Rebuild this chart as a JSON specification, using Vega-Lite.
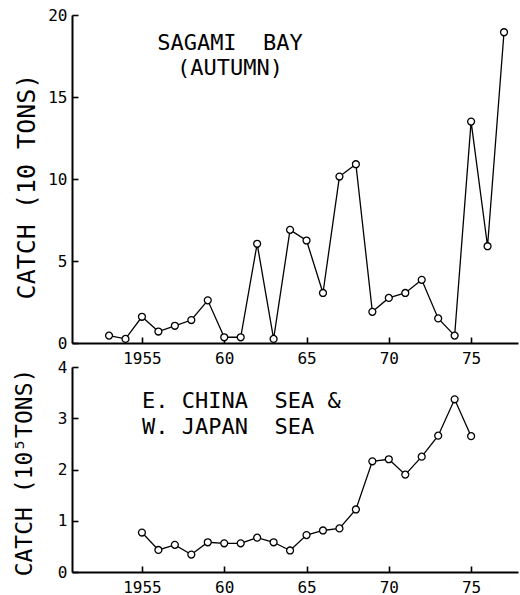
{
  "$schema": "https://vega.github.io/schema/vega-lite/v6.json",
  "background": "white",
  "padding": {"left": 12, "top": 7, "right": 2, "bottom": 2},
  "spacing": 24,
  "bounds": "flush",
  "config": {
    "view": {"stroke": null},
    "font": "DejaVu Sans Mono",
    "axis": {
      "grid": false,
      "domainColor": "black",
      "domainWidth": 2,
      "tickColor": "black",
      "tickWidth": 1.6,
      "tickSize": 6,
      "labelFont": "DejaVu Sans Mono",
      "labelFontSize": 16,
      "labelColor": "black",
      "titleFont": "DejaVu Sans Mono",
      "titleFontWeight": "normal",
      "titleFontSize": 23,
      "titleColor": "black",
      "titleLimit": 1000
    }
  },
  "datasets": {
    "sagami": [
      {"year": 1953, "catch": 0.45},
      {"year": 1954, "catch": 0.25},
      {"year": 1955, "catch": 1.6},
      {"year": 1956, "catch": 0.7},
      {"year": 1957, "catch": 1.05},
      {"year": 1958, "catch": 1.4},
      {"year": 1959, "catch": 2.6},
      {"year": 1960, "catch": 0.35},
      {"year": 1961, "catch": 0.35},
      {"year": 1962, "catch": 6.05},
      {"year": 1963, "catch": 0.25},
      {"year": 1964, "catch": 6.9},
      {"year": 1965, "catch": 6.25},
      {"year": 1966, "catch": 3.05},
      {"year": 1967, "catch": 10.15},
      {"year": 1968, "catch": 10.9},
      {"year": 1969, "catch": 1.9},
      {"year": 1970, "catch": 2.75},
      {"year": 1971, "catch": 3.05},
      {"year": 1972, "catch": 3.85},
      {"year": 1973, "catch": 1.5},
      {"year": 1974, "catch": 0.45},
      {"year": 1975, "catch": 13.5},
      {"year": 1976, "catch": 5.9},
      {"year": 1977, "catch": 18.95}
    ],
    "china": [
      {"year": 1955, "catch": 0.77},
      {"year": 1956, "catch": 0.43},
      {"year": 1957, "catch": 0.53},
      {"year": 1958, "catch": 0.34},
      {"year": 1959, "catch": 0.58},
      {"year": 1960, "catch": 0.56},
      {"year": 1961, "catch": 0.56},
      {"year": 1962, "catch": 0.67},
      {"year": 1963, "catch": 0.58},
      {"year": 1964, "catch": 0.42},
      {"year": 1965, "catch": 0.72},
      {"year": 1966, "catch": 0.81},
      {"year": 1967, "catch": 0.85},
      {"year": 1968, "catch": 1.22},
      {"year": 1969, "catch": 2.16},
      {"year": 1970, "catch": 2.2},
      {"year": 1971, "catch": 1.9},
      {"year": 1972, "catch": 2.25},
      {"year": 1973, "catch": 2.66},
      {"year": 1974, "catch": 3.37},
      {"year": 1975, "catch": 2.65}
    ]
  },
  "vconcat": [
    {
      "width": 446,
      "height": 328,
      "resolve": {"axis": {"x": "independent", "y": "independent"}},
      "layer": [
        {
          "data": {"name": "sagami"},
          "mark": {"type": "line", "color": "black", "strokeWidth": 1.3},
          "encoding": {
            "x": {"field": "year", "type": "quantitative",
                  "scale": {"domain": [1950.75, 1977.85], "nice": false, "zero": false},
                  "axis": {"title": null, "ticks": false, "labelPadding": 7, "values": [1955, 1960, 1965, 1970, 1975],
                           "labelExpr": "datum.value == 1955 ? '1955' : format(datum.value - 1900, 'd')"}},
            "y": {"field": "catch", "type": "quantitative",
                  "scale": {"domain": [0, 20], "nice": false},
                  "axis": {"title": "CATCH (10 TONS)", "titleFontSize": 25, "ticks": false, "labelPadding": 5, "format": "d",
                           "values": [0, 5, 10, 15, 20],
                           "titleX": -46, "titleY": 171, "titleBaseline": "middle", "titleAngle": -90}}
          }
        },
        {
          "data": {"name": "sagami"},
          "mark": {"type": "point", "shape": "circle", "filled": true, "fill": "white", "stroke": "black", "strokeWidth": 1.3, "size": 48, "opacity": 1},
          "encoding": {
            "x": {"field": "year", "type": "quantitative",
                  "axis": {"orient": "top", "offset": -328, "title": null, "labels": false, "domain": false,
                           "values": [1955, 1960, 1965, 1970, 1975]}},
            "y": {"field": "catch", "type": "quantitative",
                  "axis": {"orient": "right", "offset": -446, "title": null, "labels": false, "domain": false,
                           "values": [0, 5, 10, 15, 20]}}
          }
        },
        {
          "data": {"values": [{}]},
          "mark": {"type": "text", "align": "center", "baseline": "alphabetic", "fontSize": 22, "lineHeight": 25, "color": "black"},
          "encoding": {
            "x": {"datum": 1960.35, "type": "quantitative", "axis": null},
            "y": {"datum": 17.85, "type": "quantitative", "axis": null},
            "text": {"value": ["SAGAMI\u00a0\u00a0BAY", "(AUTUMN)"]}
          }
        }
      ]
    },
    {
      "width": 446,
      "height": 205,
      "resolve": {"axis": {"x": "independent", "y": "independent"}},
      "layer": [
        {
          "data": {"name": "china"},
          "mark": {"type": "line", "color": "black", "strokeWidth": 1.3},
          "encoding": {
            "x": {"field": "year", "type": "quantitative",
                  "scale": {"domain": [1950.75, 1977.85], "nice": false, "zero": false},
                  "axis": {"title": null, "ticks": false, "labelPadding": 7, "values": [1955, 1960, 1965, 1970, 1975],
                           "labelExpr": "datum.value == 1955 ? '1955' : format(datum.value - 1900, 'd')"}},
            "y": {"field": "catch", "type": "quantitative",
                  "scale": {"domain": [0, 4], "nice": false},
                  "axis": {"title": "CATCH (10⁵TONS)", "ticks": false, "labelPadding": 5, "format": "d",
                           "values": [0, 1, 2, 3, 4],
                           "titleX": -48, "titleY": 105, "titleBaseline": "middle", "titleAngle": -90}}
          }
        },
        {
          "data": {"name": "china"},
          "mark": {"type": "point", "shape": "circle", "filled": true, "fill": "white", "stroke": "black", "strokeWidth": 1.3, "size": 48, "opacity": 1},
          "encoding": {
            "x": {"field": "year", "type": "quantitative",
                  "axis": {"orient": "top", "offset": -205, "title": null, "labels": false, "domain": false,
                           "values": [1955, 1960, 1965, 1970, 1975]}},
            "y": {"field": "catch", "type": "quantitative",
                  "axis": {"orient": "right", "offset": -446, "title": null, "labels": false, "domain": false,
                           "values": [0, 1, 2, 3, 4]}}
          }
        },
        {
          "data": {"values": [{}]},
          "mark": {"type": "text", "align": "left", "baseline": "alphabetic", "fontSize": 22, "lineHeight": 26, "color": "black"},
          "encoding": {
            "x": {"datum": 1955.0, "type": "quantitative", "axis": null},
            "y": {"datum": 3.2, "type": "quantitative", "axis": null},
            "text": {"value": ["E. CHINA\u00a0\u00a0SEA\u00a0&", "W. JAPAN\u00a0\u00a0SEA"]}
          }
        }
      ]
    }
  ]
}
